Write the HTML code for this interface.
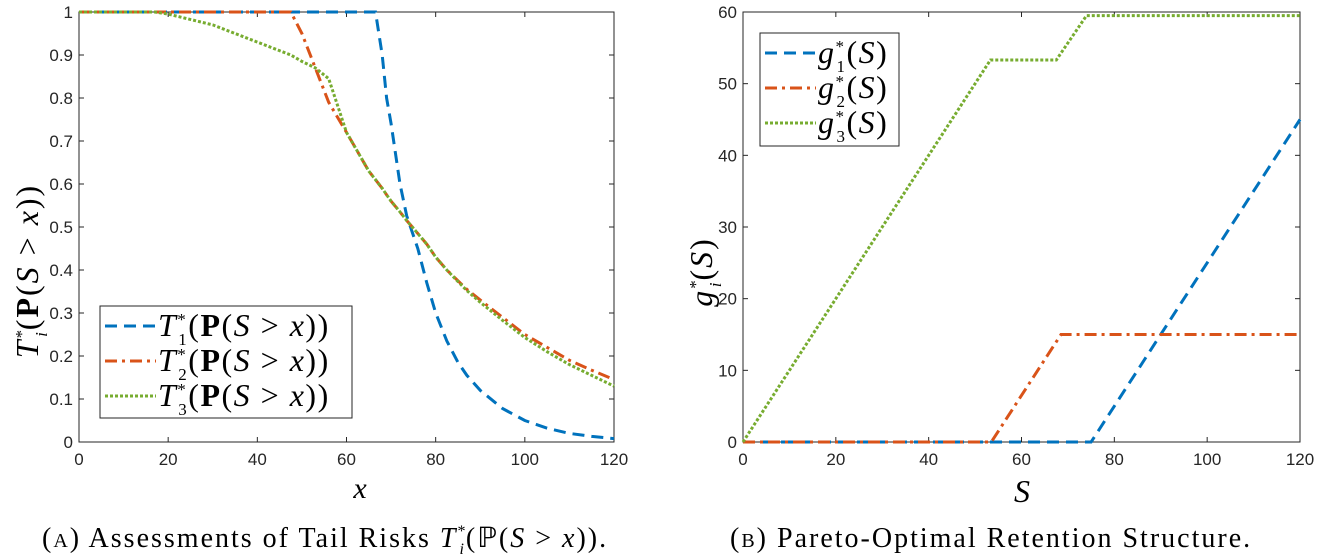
<!DOCTYPE html>
<html><head><meta charset="utf-8"><style>
body{margin:0;background:#fff;}
svg{display:block;}
.tick{font-family:"Liberation Sans",sans-serif;font-size:17px;fill:#262626;}
.math{font-family:"Liberation Serif",serif;font-style:italic;}
.rm{font-family:"Liberation Serif",serif;font-style:normal;}
</style></head><body>
<svg id="chart" width="1320" height="555" xmlns="http://www.w3.org/2000/svg"></svg>
<script>
// Panel A data
const xA = [0,10,17,20,30,40,47.5,50,53,56,60,65,66.5,68,69,70,72,73.5,76,78,80,82.5,85,87,90,95,100,105,110,115,120];
const t1 = [1,1,1,1,1,1,1,1,1,1,1,1,1,0.9,0.8,0.74,0.6,0.526,0.45,0.37,0.3,0.235,0.185,0.155,0.12,0.078,0.05,0.032,0.02,0.013,0.008];
const t2 = [1,1,1,1,1,1,1,0.95,0.87,0.79,0.72,0.63,0.61,0.59,0.575,0.56,0.535,0.515,0.485,0.46,0.43,0.4,0.375,0.355,0.33,0.29,0.25,0.22,0.19,0.167,0.145];
const t3 = [1,1,1,0.995,0.97,0.93,0.9,0.885,0.87,0.845,0.72,0.63,0.61,0.59,0.575,0.56,0.535,0.515,0.485,0.46,0.43,0.4,0.373,0.352,0.325,0.283,0.243,0.21,0.18,0.155,0.13];
const xTicksA = [0,20,40,60,80,100,120];
const yTicksA = [0,0.1,0.2,0.3,0.4,0.5,0.6,0.7,0.8,0.9,1];
const yTickLabelsA = ["0","0.1","0.2","0.3","0.4","0.5","0.6","0.7","0.8","0.9","1"];
// Panel B data
const g1x = [0,75,120], g1 = [0,0,45];
const g2x = [0,53.5,68.5,120], g2 = [0,0,15,15];
const g3x = [0,53.3,67.5,74,120], g3 = [0,53.3,53.3,59.5,59.5];
const xTicksB = [0,20,40,60,80,100,120];
const yTicksB = [0,10,20,30,40,50,60];

const NS="http://www.w3.org/2000/svg";
const svg=document.getElementById('chart');
function mk(tag,attrs,parent){const e=document.createElementNS(NS,tag);for(const k in attrs)e.setAttribute(k,attrs[k]);(parent||svg).appendChild(e);return e;}
const colors=["#0072BD","#D95319","#77AC30"];
const dashes=["12,7","12,5,3,5","3,2"];

function panel(name,x0,x1,y0,y1,xmax,ymax,xt,yt,ytl,series){
  const sx=v=>x0+(v/xmax)*(x1-x0), sy=v=>y1-(v/ymax)*(y1-y0);
  const g=mk('g',{});
  
  
  const box=mk('rect',{x:x0,y:y0,width:x1-x0,height:y1-y0,fill:'#fff',stroke:'#262626','stroke-width':1},g);
  
  
  xt.forEach(v=>{
    mk('line',{x1:sx(v),x2:sx(v),y1:y1,y2:y1-5,stroke:'#262626'},g);
    mk('line',{x1:sx(v),x2:sx(v),y1:y0,y2:y0+5,stroke:'#262626'},g);
    const t=mk('text',{x:sx(v),y:y1+23,'text-anchor':'middle',class:'tick'},g);
    t.textContent=v;
    
    
  });
  yt.forEach((v,i)=>{
    mk('line',{x1:x0,x2:x0+5,y1:sy(v),y2:sy(v),stroke:'#262626'},g);
    mk('line',{x1:x1,x2:x1-5,y1:sy(v),y2:sy(v),stroke:'#262626'},g);
    const t=mk('text',{x:x0-6,y:sy(v)+6,'text-anchor':'end',class:'tick'},g);
    t.textContent=ytl[i];
    
    
  });
  series.forEach((s,i)=>{
    const d=s.x.map((v,j)=>(j?'L':'M')+sx(v).toFixed(1)+','+sy(s.y[j]).toFixed(1)).join(' ');
    const p=mk('path',{d:d,fill:'none',stroke:colors[i],'stroke-width':3,'stroke-dasharray':dashes[i]},g);
    
    
  });
  return g;
}
panel('panel-a-chart',79,614,12,442,120,1,xTicksA,yTicksA,yTickLabelsA,
  [{x:xA,y:t1},{x:xA,y:t2},{x:xA,y:t3}]);
panel('panel-b-chart',743,1300,12,442,120,60,xTicksB,yTicksB,yTicksB.map(String),
  [{x:g1x,y:g1},{x:g2x,y:g2},{x:g3x,y:g3}]);

function legend(name,x,y,w,h,labels,fs){
  const g=mk('g',{});
  
  
  mk('rect',{x:x,y:y,width:w,height:h,fill:'#fff',stroke:'#262626'},g);
  labels.forEach((lab,i)=>{
    const yy=y+20+i*35;
    const ln=mk('line',{x1:x+5,x2:x+56,y1:yy,y2:yy,stroke:colors[i],'stroke-width':3,'stroke-dasharray':dashes[i]},g);
    
    
    const t=mk('text',{x:x+58,y:yy+10,'font-size':fs,'letter-spacing':1.5},g);
    t.innerHTML=lab(i+1);
    
    
  });
}
const tl=n=>`<tspan class="math">T</tspan><tspan class="rm" font-size="17" dy="-11">*</tspan><tspan class="rm" font-size="17" dx="-9" dy="20">${n}</tspan><tspan class="rm" dy="-9">(</tspan><tspan class="rm" font-weight="bold">P</tspan><tspan class="rm">(</tspan><tspan class="math">S</tspan><tspan class="rm"> &gt; </tspan><tspan class="math">x</tspan><tspan class="rm">))</tspan>`;
legend('legend-a',100,306,252,112,[tl,tl,tl],32);
const gl=n=>`<tspan class="math">g</tspan><tspan class="rm" font-size="17" dy="-11">*</tspan><tspan class="rm" font-size="17" dx="-9" dy="20">${n}</tspan><tspan class="rm" dy="-9">(</tspan><tspan class="math">S</tspan><tspan class="rm">)</tspan>`;
legend('legend-b',760,33,139,113,[gl,gl,gl],32);
</script>
<svg style="position:absolute;left:0;top:0" width="1320" height="555" xmlns="http://www.w3.org/2000/svg">
<text x="360" y="498" text-anchor="middle" class="math" font-size="30">x</text>
<text transform="translate(38,271) rotate(-90)" text-anchor="middle" font-size="32" letter-spacing="2"><tspan class="math">T</tspan><tspan class="rm" font-size="17" dy="-11">*</tspan><tspan class="math" font-size="17" dx="-9" dy="20">i</tspan><tspan class="rm" dy="-9">(</tspan><tspan class="rm" font-weight="bold">P</tspan><tspan class="rm">(</tspan><tspan class="math">S</tspan><tspan class="rm"> &gt; </tspan><tspan class="math">x</tspan><tspan class="rm">))</tspan></text>
<text x="1022" y="502" text-anchor="middle" class="math" font-size="32">S</text>
<text transform="translate(712,272) rotate(-90)" text-anchor="middle" font-size="32" letter-spacing="2"><tspan class="math">g</tspan><tspan class="rm" font-size="17" dy="-11">*</tspan><tspan class="math" font-size="17" dx="-9" dy="20">i</tspan><tspan class="rm" dy="-9">(</tspan><tspan class="math">S</tspan><tspan class="rm">)</tspan></text>
<text x="42" y="547" font-size="28" letter-spacing="2" class="rm">(<tspan font-size="20">A</tspan>) Assessments of Tail Risks <tspan class="math">T</tspan><tspan font-size="16" dy="-11">*</tspan><tspan class="math" font-size="16" dx="-8" dy="18">i</tspan><tspan dy="-7">(ℙ(</tspan><tspan class="math">S</tspan> &gt; <tspan class="math">x</tspan>)).</text>
<text x="730" y="547" font-size="28" letter-spacing="2" class="rm">(<tspan font-size="20">B</tspan>) Pareto-Optimal Retention Structure.</text>
</svg>
</body></html>
